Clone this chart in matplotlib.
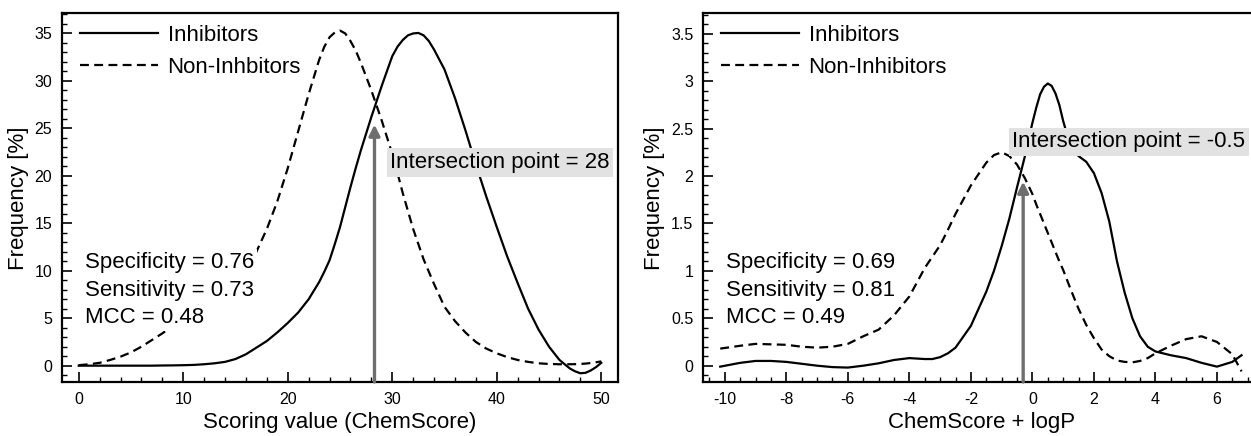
import matplotlib
matplotlib.use("Agg")
import matplotlib.pyplot as plt
from matplotlib.ticker import MultipleLocator

plt.rcParams['font.family'] = ['Liberation Sans', 'DejaVu Sans']
plt.rcParams['axes.unicode_minus'] = False

# ---- left panel: ChemScore ----
x_left = [0, 1, 2, 3, 4, 5, 6, 7, 8, 9, 10, 11, 12, 13, 14, 15, 16, 17, 18, 19,
          20, 21, 22, 23, 23.5, 24, 24.5, 25, 25.5, 26, 26.5, 27, 28, 29, 30,
          30.5, 31, 31.5, 32, 32.5, 33, 33.5, 34, 35, 36, 37, 38, 39, 40, 41,
          42, 43, 44, 45, 46, 47, 47.5, 48, 48.5, 49, 49.5, 50]
inh_left = [0, 0, 0, 0, 0, 0, 0, 0, 0.02, 0.03, 0.05, 0.08, 0.15, 0.25, 0.4, 0.7,
            1.2, 1.9, 2.6, 3.5, 4.5, 5.6, 7.0, 8.8, 9.9, 11.1, 12.8, 14.6, 16.7,
            18.8, 20.8, 22.7, 26.2, 29.5, 32.6, 33.6, 34.3, 34.8, 35.0, 35.05,
            34.8, 34.2, 33.3, 31.2, 28.2, 24.8, 21.2, 17.8, 14.6, 11.5, 8.7, 6.0,
            3.8, 2.0, 0.6, -0.3, -0.6, -0.8, -0.75, -0.5, -0.15, 0.3]
non_left = [0.05, 0.15, 0.3, 0.6, 0.95, 1.4, 2.0, 2.7, 3.4, 4.2, 5.0, 5.9, 6.8,
            7.7, 8.6, 9.6, 10.8, 12.0, 14.4, 17.3, 20.8, 24.7, 28.6, 32.2, 33.6,
            34.6, 35.1, 35.3, 35.0, 34.2, 33.2, 31.9, 29.0, 25.8, 22.3, 20.3,
            18.2, 16.3, 14.4, 12.8, 11.2, 9.9, 8.6, 6.2, 4.7, 3.5, 2.5, 1.8, 1.3,
            0.9, 0.6, 0.4, 0.25, 0.18, 0.15, 0.15, 0.16, 0.18, 0.22, 0.28, 0.36,
            0.45]
cut_left = 28.3
stats_left = ['Specificity = 0.76', 'Sensitivity = 0.73', 'MCC = 0.48']

# ---- right panel: ChemScore + logP ----
x_right = [-10.15, -9.5, -9, -8.5, -8, -7.5, -7, -6.5, -6, -5.5, -5, -4.5, -4,
           -3.5, -3.25, -3, -2.75, -2.5, -2, -1.5, -1.25, -1, -0.75, -0.5,
           -0.25, 0, 0.125, 0.25, 0.375, 0.5, 0.625, 0.75, 0.875, 1, 1.25, 1.5,
           1.75, 2, 2.25, 2.5, 2.75, 3, 3.25, 3.5, 3.75, 4, 4.5, 5, 5.5, 6, 6.5,
           6.8]
inh_right = [-0.01, 0.03, 0.05, 0.05, 0.04, 0.02, 0.0, -0.015, -0.02, 0.0, 0.025,
             0.06, 0.08, 0.07, 0.07, 0.09, 0.13, 0.19, 0.42, 0.78, 1.0, 1.26,
             1.55, 1.88, 2.2, 2.56, 2.72, 2.86, 2.94, 2.975, 2.95, 2.87, 2.75,
             2.58, 2.3, 2.21, 2.15, 2.03, 1.82, 1.52, 1.1, 0.77, 0.5, 0.31, 0.2,
             0.15, 0.11, 0.08, 0.03, -0.01, 0.04, 0.11]
non_right = [0.18, 0.21, 0.23, 0.225, 0.22, 0.2, 0.19, 0.2, 0.23, 0.31, 0.38,
             0.53, 0.73, 1.03, 1.15, 1.27, 1.43, 1.6, 1.9, 2.14, 2.22, 2.25, 2.21,
             2.12, 1.98, 1.81, 1.7, 1.6, 1.5, 1.4, 1.3, 1.2, 1.1, 1.01, 0.8, 0.6,
             0.43, 0.29, 0.17, 0.1, 0.055, 0.04, 0.035, 0.05, 0.08, 0.13, 0.21,
             0.28, 0.31, 0.25, 0.12, -0.06]
cut_right = -0.3
stats_right = ['Specificity = 0.69', 'Sensitivity = 0.81', 'MCC = 0.49']

W, H = 1251, 436
fig = plt.figure(figsize=(W / 100, H / 100), dpi=100)
ax1 = fig.add_axes([62 / W, 1 - 382 / H, (618 - 62) / W, (382 - 13.5) / H])
ax2 = fig.add_axes([703 / W, 1 - 382 / H, (1260 - 703) / W, (382 - 13.5) / H])

gray = '#6e6e6e'
dash = (4, 2.4)


def style_axes(ax, xmaj, xmin, ymaj, ymin):
    for s in ax.spines.values():
        s.set_linewidth(1.6)
    ax.xaxis.set_major_locator(MultipleLocator(xmaj))
    ax.xaxis.set_minor_locator(MultipleLocator(xmin))
    ax.yaxis.set_major_locator(MultipleLocator(ymaj))
    ax.yaxis.set_minor_locator(MultipleLocator(ymin))
    ax.yaxis.set_major_formatter(plt.FuncFormatter(lambda v, p: '%g' % v))
    ax.tick_params(which='both', direction='in', top=False, right=False,
                   labelsize=11.5)
    ax.tick_params(which='major', length=7.5, width=1.2, pad=7)
    ax.tick_params(which='minor', length=3.5, width=1.0)
    ax.set_ylabel('Frequency [%]', fontsize=16, labelpad=4)


def panel(ax, x, inh, non, cut, tip, label_non, stats, sx, sy, dy,
          ix, iy, ilabel):
    ax.plot(x, inh, color='black', lw=1.6, label='Inhibitors', zorder=2)
    ax.plot(x, non, color='black', lw=1.6, ls='--', dashes=dash,
            label=label_non, zorder=2)
    y0 = ax.get_ylim()[0]
    ax.annotate('', xy=(cut, tip), xytext=(cut, y0),
                arrowprops=dict(arrowstyle='-|>', color=gray, lw=2.4,
                                mutation_scale=16, shrinkA=0, shrinkB=0),
                zorder=3)
    # each stats line has its own white background
    for i, s in enumerate(stats):
        ax.text(sx, sy - i * dy, s, fontsize=16, ha='left', va='center',
                zorder=4, bbox=dict(facecolor='white', edgecolor='none', pad=2))
    ax.text(ix, iy, ilabel, fontsize=16, ha='left', va='center', zorder=4,
            bbox=dict(facecolor='#e2e2e2', edgecolor='none', pad=2.5))
    ax.legend(loc='upper left', bbox_to_anchor=(0.012, 1.0), frameon=False,
              fontsize=16, handlelength=3.5, handletextpad=0.45,
              labelspacing=0.5, borderaxespad=0.3, borderpad=0.2)


ax1.set_xlim(-1.6, 51.6)
ax1.set_ylim(-1.72, 37.1)
style_axes(ax1, 10, 2, 5, 1)
panel(ax1, x_left, inh_left, non_left, cut_left, 25.4, 'Non-Inhbitors',
      stats_left, 0.57, 10.87, 2.91, 29.8, 21.4, 'Intersection point = 28')
ax1.set_xlabel('Scoring value (ChemScore)', fontsize=16, labelpad=4)

ax2.set_xlim(-10.71, 7.4)
ax2.set_ylim(-0.172, 3.713)
style_axes(ax2, 2, 0.5, 0.5, 0.1)
panel(ax2, x_right, inh_right, non_right, cut_right, 1.94, 'Non-Inhibitors',
      stats_right, -9.95, 1.086, 0.291, -0.65, 2.36, 'Intersection point = -0.5')
ax2.set_xlabel('ChemScore + logP', fontsize=16, labelpad=4)

fig.savefig('out.png', dpi=100)
